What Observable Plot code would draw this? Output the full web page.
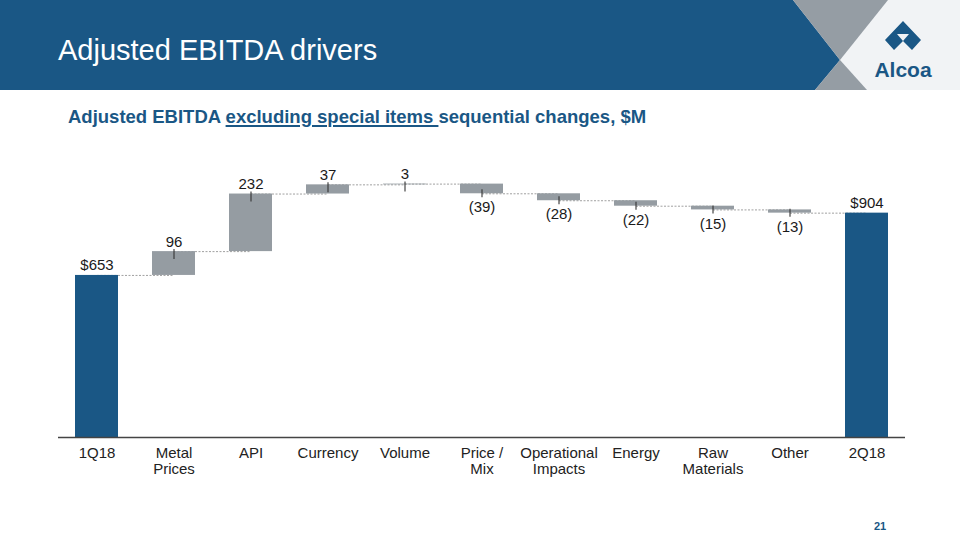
<!DOCTYPE html>
<html>
<head>
<meta charset="utf-8">
<script src="https://cdn.jsdelivr.net/npm/d3@7"></script>
<script src="https://cdn.jsdelivr.net/npm/@observablehq/plot@0.6"></script>
<style>
  html, body { margin: 0; padding: 0; background: #fff; }
  #page { position: relative; width: 960px; height: 540px; overflow: hidden; font-family: "Liberation Sans", Arial, sans-serif; }
  #header { position: absolute; left: 0; top: 0; width: 960px; height: 90px; }
  #title { position: absolute; left: 58px; top: 32px; font-size: 29px; color: #fff; line-height: 36px; white-space: nowrap; }
  #subtitle { position: absolute; left: 68px; top: 106px; font-size: 18.5px; font-weight: bold; color: #1a5785; line-height: 22px; white-space: nowrap; }
  #subtitle u { text-decoration-thickness: 1.5px; text-underline-offset: 2px; }
  #chart { position: absolute; left: 0; top: 144px; }
  #pagenum { position: absolute; left: 874px; top: 520px; font-size: 11px; font-weight: bold; color: #1a5785; }
</style>
</head>
<body>
<div id="page">
  <svg id="header" width="960" height="90" viewBox="0 0 960 90">
    <rect x="0" y="0" width="960" height="90" fill="#f1f3f5"/>
    <polygon points="0,0 793,0 840,60 815,90 0,90" fill="#1a5785"/>
    <polygon points="793,0 888,0 840,60" fill="#959da4"/>
    <polygon points="840,60 867,90 815,90" fill="#959da4"/>
    <path d="M903,21 L921,40 L912,50 L903,41 L894,50 L885,40 Z" fill="#1a5785"/>
    <path d="M897,34 L909,34 L903,41 Z" fill="#f1f3f5"/>
    <text x="903" y="77" text-anchor="middle" font-family="Liberation Sans, Arial, sans-serif" font-weight="bold" font-size="21" fill="#1a5785">Alcoa</text>
  </svg>
  <div id="title">Adjusted EBITDA drivers</div>
  <div id="subtitle">Adjusted EBITDA <u>excluding special items </u>sequential changes, $M</div>
  <div id="chart"></div>
  <div id="pagenum">21</div>
</div>
<script>
const categories = ["1Q18", "Metal Prices", "API", "Currency", "Volume", "Price / Mix", "Operational Impacts", "Energy", "Raw Materials", "Other", "2Q18"];
const values = [653, 96, 232, 37, 3, -39, -28, -22, -15, -13, 904];
const isTotal = [true, false, false, false, false, false, false, false, false, false, true];
const valueLabels = ["$653", "96", "232", "37", "3", "(39)", "(28)", "(22)", "(15)", "(13)", "$904"];
const tickLabels = ["1Q18", "Metal\nPrices", "API", "Currency", "Volume", "Price /\nMix", "Operational\nImpacts", "Energy", "Raw\nMaterials", "Other", "2Q18"];

const BLUE = "#1a5785";
const GRAY = "#959ca2";

let running = 0;
const rows = categories.map((c, i) => {
  let start, end;
  if (isTotal[i]) { start = 0; end = values[i]; running = values[i]; }
  else { start = running; end = running + values[i]; running = end; }
  return {cat: c, value: values[i], start, end, total: isTotal[i], label: valueLabels[i], tick: tickLabels[i]};
});
const links = rows.slice(0, -1).map((r, i) => ({from: r.cat, to: rows[i + 1].cat, level: r.end}));
const deltas = rows.filter(r => !r.total);
const tickMap = new Map(rows.map(r => [r.cat, r.tick]));

const chart = Plot.plot({
  width: 960,
  height: 343,
  marginTop: 20,
  marginBottom: 50,
  marginLeft: 58,
  marginRight: 55,
  style: {fontFamily: "'Liberation Sans', Arial, sans-serif", fontSize: "15px", color: "#222", background: "transparent"},
  x: {domain: categories, paddingInner: 0.44, paddingOuter: 0.22, axis: null},
  y: {domain: [0, 1100], axis: null},
  marks: [
    Plot.link(links, {x1: "from", x2: "to", y1: "level", y2: "level", stroke: "#a0a0a0", strokeWidth: 1, strokeDasharray: "2,1.5"}),
    Plot.barY(rows, {x: "cat", y1: "start", y2: "end", fill: d => d.total ? BLUE : GRAY}),
    Plot.ruleX(deltas.filter(d => d.value > 0), {x: "cat", y1: "end", y2: "end", stroke: "#333", strokeWidth: 1.1, insetTop: -2, insetBottom: -8}),
    Plot.ruleX(deltas.filter(d => d.value < 0), {x: "cat", y1: "end", y2: "end", stroke: "#333", strokeWidth: 1.1, insetTop: -4, insetBottom: -4}),
    Plot.text(rows.filter(d => d.value > 0), {x: "cat", y: "end", text: "label", dy: -5, lineAnchor: "bottom", fill: "#1a1a1a", fontSize: 15}),
    Plot.text(rows.filter(d => d.value < 0), {x: "cat", y: "end", text: "label", dy: 8, lineAnchor: "top", fill: "#1a1a1a", fontSize: 15}),
    Plot.ruleY([0], {stroke: "#444", strokeWidth: 1.5}),
    Plot.axisX({tickSize: 0, tickPadding: 9, tickFormat: d => tickMap.get(d), fontSize: 15, lineHeight: 1.07, fill: "#222"})
  ]
});
document.getElementById("chart").appendChild(chart);
</script>
</body>
</html>
